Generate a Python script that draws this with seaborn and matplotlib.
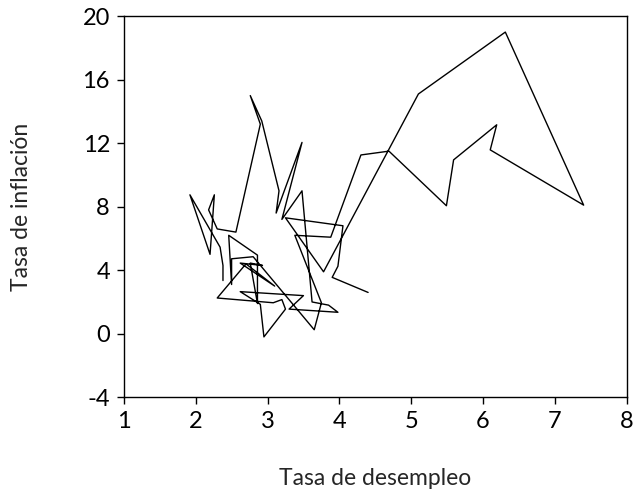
import pandas as pd
import matplotlib
matplotlib.use("Agg")
import matplotlib.pyplot as plt
import seaborn as sns

# unemployment (x) and inflation (y) in path order
desempleo = [2.38, 2.38, 2.34, 1.92, 2.20, 2.26, 2.18, 2.30, 2.56, 2.90,
             2.76, 2.92, 3.16, 3.12, 3.48, 3.20, 3.48, 3.62, 3.85, 3.98,
             3.30, 3.50, 2.62, 2.90, 2.95, 3.25, 3.20, 3.08, 2.30, 2.70,
             3.10, 2.62, 2.93, 2.76, 2.86, 2.86, 2.46, 2.50, 2.50, 2.80,
             3.65, 3.75, 3.38, 3.88, 4.30, 4.69, 5.49, 5.59, 6.19, 6.10,
             7.40, 6.31, 5.10, 3.78, 3.25, 4.05, 3.98, 3.90, 4.40]
inflacion = [3.35, 4.30, 5.45, 8.75, 5.00, 8.75, 7.80, 6.60, 6.40, 13.20,
             15.00, 13.40, 9.00, 7.60, 12.05, 7.20, 9.00, 2.00, 1.80, 1.35,
             1.55, 2.40, 2.65, 1.85, -0.20, 1.55, 2.15, 1.95, 2.25, 4.40,
             3.00, 4.45, 4.30, 4.45, 1.90, 4.95, 6.20, 3.10, 4.72, 4.85,
             0.25, 1.95, 6.20, 6.08, 11.26, 11.50, 8.06, 10.95, 13.16, 11.58,
             8.10, 19.00, 15.10, 3.90, 7.30, 6.80, 4.25, 3.55, 2.60]

df = pd.DataFrame({"desempleo": desempleo, "inflacion": inflacion})

sns.set_style("ticks")
plt.rcParams["font.family"] = ["Lato", "DejaVu Sans"]
plt.rcParams["axes.unicode_minus"] = False

fig = plt.figure(figsize=(6.35, 4.91), dpi=100)
ax = fig.add_axes([0.195, 0.191, 0.792, 0.776])
sns.lineplot(data=df, x="desempleo", y="inflacion", sort=False, estimator=None,
             color="black", linewidth=1.0, ax=ax)

ax.set_xlim(1, 8)
ax.set_ylim(-4, 20)
ax.set_xticks(range(1, 9))
ax.set_yticks([-4, 0, 4, 8, 12, 16, 20])
ax.tick_params(direction="out", length=5, width=1, labelsize=17, colors="black", pad=5)
for s in ax.spines.values():
    s.set_color("black")
    s.set_linewidth(1)
ax.set_xlabel("Tasa de desempleo", fontsize=16.5, labelpad=26)
ax.set_ylabel("Tasa de inflación", fontsize=16.5, labelpad=36)

fig.savefig("out.png", dpi=100)
